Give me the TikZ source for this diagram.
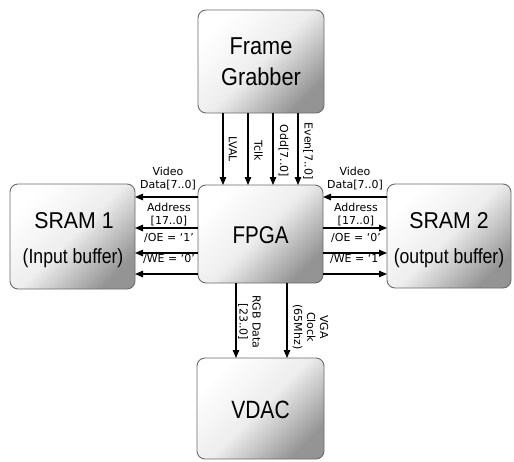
\documentclass[tikz,border=0pt]{standalone}
\usepackage{fontspec}
\setmainfont{Liberation Sans}
\newfontfamily\labelfont{DejaVu Sans}
\usetikzlibrary{arrows.meta}
\newcommand{\xs}[2]{\scalebox{#1}[1]{#2}}
\tikzset{
  blockbox/.style={draw=black!58, line width=0.9pt, rounded corners=8pt,
    top color=white, bottom color=black!42, middle color=white!93!black, shading angle=45},
  title/.style={inner sep=0pt, align=center},
  sig/.style={-{Triangle[length=8pt,width=6.5pt]}, line width=1.2pt},
  lbl/.style={font=\labelfont\fontsize{11}{13}\selectfont, inner sep=0pt, align=center}
}
\begin{document}
\begin{tikzpicture}[x=1pt,y=-1pt]
\useasboundingbox (0,0) rectangle (514,461);

% blocks
\shade[blockbox] (198,10) rectangle (324,113);
\shade[blockbox] (198,185) rectangle (323,283);
\shade[blockbox] (10,184) rectangle (135,289);
\shade[blockbox] (387,184) rectangle (511,288);
\shade[blockbox] (197,358) rectangle (324,459);

% block titles
\node[title, anchor=base] (fgA) at (261,54.3) {\fontsize{24.4}{30}\selectfont\xs{0.89}{Frame}};
\node[title, anchor=base] (fgB) at (261,85.7) {\fontsize{24.4}{30}\selectfont\xs{0.89}{Grabber}};
\node[title, anchor=base] (fpga) at (260.5,243.3) {\fontsize{24.2}{30}\selectfont\xs{0.85}{FPGA}};
\node[title, anchor=base] (s1a) at (74,228.7) {\fontsize{22.9}{28}\selectfont\xs{0.93}{SRAM 1}};
\node[title, anchor=base] (s1b) at (73,263.6) {\fontsize{20.5}{26}\selectfont\xs{0.86}{(Input buffer)}};
\node[title, anchor=base] (s2a) at (449,228.7) {\fontsize{22.9}{28}\selectfont\xs{0.93}{SRAM 2}};
\node[title, anchor=base] (s2b) at (449,263.6) {\fontsize{20.5}{26}\selectfont\xs{0.86}{(output buffer)}};
\node[title, anchor=base] (vdac) at (260.5,418) {\fontsize{25}{30}\selectfont\xs{0.84}{VDAC}};

% anchor points of the signal lines
\foreach \x [count=\i] in {223,248,273,298} {
  \coordinate (t\i) at (\x,113);
  \coordinate (f\i) at (\x,185);
}
\foreach \y [count=\i] in {197,228,253,274} {
  \coordinate (l\i) at (135,\y);
  \coordinate (p\i) at (198,\y);
  \coordinate (q\i) at (323,\y);
  \coordinate (r\i) at (387,\y);
}
\coordinate (b1) at (236,283);
\coordinate (v1) at (236,358);
\coordinate (b2) at (287,283);
\coordinate (v2) at (287,358);

% frame grabber -> FPGA
\foreach \i in {1,...,4} \draw[sig] (t\i) -- (f\i);
\node[lbl, rotate=-90] (lval) at (233,149) {LVAL};
\node[lbl, rotate=-90] (tclk) at (258.5,151) {Tclk};
\node[lbl, rotate=-90] (odd)  at (283.5,151) {Odd[7..0]};
\node[lbl, rotate=-90] (even) at (308,151) {Even[7..0]};

% FPGA -> SRAM 1
\foreach \i in {1,...,4} \draw[sig] (p\i) -- (l\i);
\node[lbl, anchor=base] (vd1) at (168,188) {Video\\Data[7..0]};
\node[lbl, anchor=base] (ad1) at (169,224) {Address\\{}[17..0]};
\node[lbl, anchor=base] (oe1) at (169,241) {/OE = ‘1’};
\node[lbl, anchor=base] (we1) at (169,262) {/WE = ‘0’};

% SRAM 2 <-> FPGA
\draw[sig] (r1) -- (q1);
\foreach \i in {2,3,4} \draw[sig] (q\i) -- (r\i);
\node[lbl, anchor=base] (vd2) at (355,188) {Video\\Data[7..0]};
\node[lbl, anchor=base] (ad2) at (356,224) {Address\\{}[17..0]};
\node[lbl, anchor=base] (oe2) at (356,241) {/OE = ‘0’};
\node[lbl, anchor=base] (we2) at (356,262) {/WE = ‘1’};

% FPGA -> VDAC
\draw[sig] (b1) -- (v1);
\draw[sig] (b2) -- (v2);
\node[lbl, rotate=-90] (rgb) at (249.5,322) {RGB Data\\{}[23..0]};
\node[lbl, rotate=-90] (vga) at (310.5,327) {VGA\\Clock\\(65Mhz)};
\end{tikzpicture}
\end{document}
